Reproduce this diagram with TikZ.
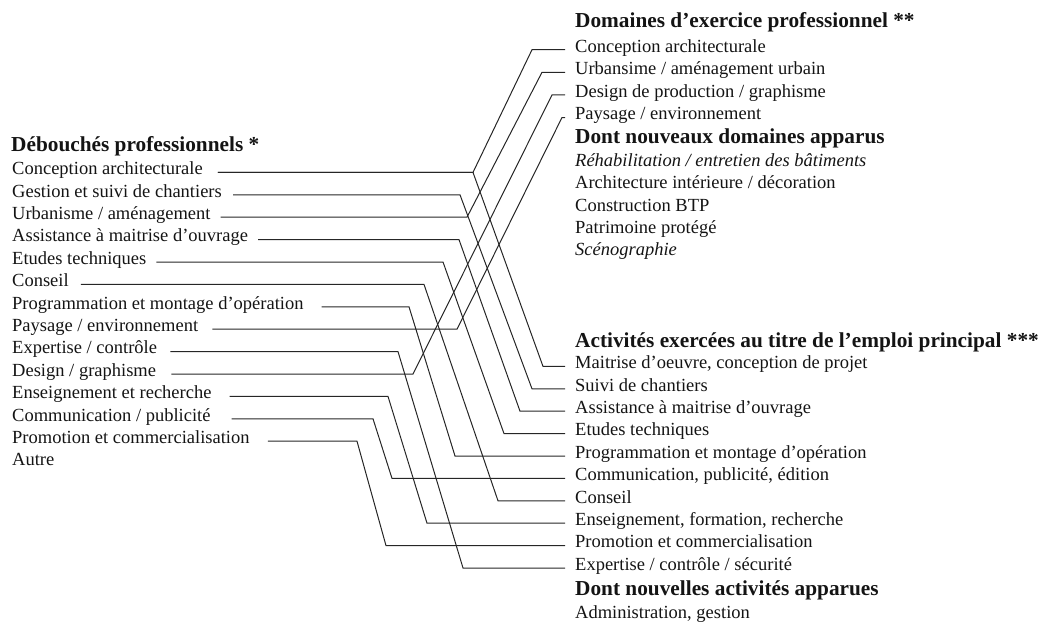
\documentclass[tikz,border=0pt]{standalone}
\usepackage{fontspec}
\setmainfont{Liberation Serif}
\begin{document}
\begin{tikzpicture}[x=1pt,y=-1pt,
  lbl/.style={anchor=base west, inner sep=0pt, text=black!92,
    font=\fontsize{18.5}{22.6}\selectfont},
  ttl/.style={lbl, font=\fontsize{21.3}{25}\selectfont\bfseries},
  itl/.style={lbl, font=\fontsize{18.5}{22.6}\selectfont\itshape},
  conn/.style={draw=black!85, line width=1pt, line join=miter}]
\useasboundingbox (0,-2) rectangle (1040,619);
% ---------- left column
\node[ttl] (lT) at (11,149.3) {Débouchés professionnels *};
\node[lbl] (l1)  at (12,172.7) {Conception architecturale};
\node[lbl] (l2)  at (12,195.1) {Gestion et suivi de chantiers};
\node[lbl] (l3)  at (12,217.5) {Urbanisme / aménagement};
\node[lbl] (l4)  at (12,239.9) {Assistance à maitrise d’ouvrage};
\node[lbl] (l5)  at (12,262.3) {Etudes techniques};
\node[lbl] (l6)  at (12,284.7) {Conseil};
\node[lbl] (l7)  at (12,307.1) {Programmation et montage d’opération};
\node[lbl] (l8)  at (12,329.5) {Paysage / environnement};
\node[lbl] (l9)  at (12,351.9) {Expertise / contrôle};
\node[lbl] (l10) at (12,374.3) {Design / graphisme};
\node[lbl] (l11) at (12,396.7) {Enseignement et recherche};
\node[lbl] (l12) at (12,419.1) {Communication / publicité};
\node[lbl] (l13) at (12,441.5) {Promotion et commercialisation};
\node[lbl] (l14) at (12,463.9) {Autre};
% ---------- right top column
\node[ttl] (tT) at (575,25.0) {Domaines d’exercice professionnel **};
\node[lbl] (t1) at (575,50.0) {Conception architecturale};
\node[lbl] (t2) at (575,72.6) {Urbansime / aménagement urbain};
\node[lbl] (t3) at (575,95.2) {Design de production / graphisme};
\node[lbl] (t4) at (575,117.8) {Paysage / environnement};
\node[ttl] (tT2) at (575,141.2) {Dont nouveaux domaines apparus};
\node[itl] (t5) at (575,164.6) {Réhabilitation / entretien des bâtiments};
\node[lbl] (t6) at (575,186.8) {Architecture intérieure / décoration};
\node[lbl] (t7) at (575,209.0) {Construction BTP};
\node[lbl] (t8) at (575,231.2) {Patrimoine protégé};
\node[itl] (t9) at (575,253.3) {Scénographie};
% ---------- right bottom column
\node[ttl] (bT) at (575,345.0) {Activités exercées au titre de l’emploi principal ***};
\node[lbl] (b1)  at (575,366.7) {Maitrise d’oeuvre, conception de projet};
\node[lbl] (b2)  at (575,389.1) {Suivi de chantiers};
\node[lbl] (b3)  at (575,411.5) {Assistance à maitrise d’ouvrage};
\node[lbl] (b4)  at (575,433.9) {Etudes techniques};
\node[lbl] (b5)  at (575,456.3) {Programmation et montage d’opération};
\node[lbl] (b6)  at (575,478.7) {Communication, publicité, édition};
\node[lbl] (b7)  at (575,501.1) {Conseil};
\node[lbl] (b8)  at (575,523.5) {Enseignement, formation, recherche};
\node[lbl] (b9)  at (575,545.9) {Promotion et commercialisation};
\node[lbl] (b10) at (575,568.3) {Expertise / contrôle / sécurité};
\node[ttl] (bT2) at (575,593.3) {Dont nouvelles activités apparues};
\node[lbl] (b11) at (575,616.0) {Administration, gestion};
% ---------- connectors: left node, gap, bend x 1, bend x 2, right node
\newcommand\linkLR[5]{%
  \draw[conn] ([xshift=#2pt]#1.mid east) -- (#3,0 |- #1.mid east)
    -- (#4,0 |- #5.mid west) -- ([xshift=-10pt]#5.mid west);}
% upward
\linkLR{l1}{15}{473}{532}{t1}
\linkLR{l3}{10}{467}{542}{t2}
\linkLR{l10}{15}{413}{552}{t3}
\linkLR{l8}{14}{457}{562}{t4}
% downward
\linkLR{l1}{15}{473}{543}{b1}
\linkLR{l2}{11}{460}{532}{b2}
\linkLR{l4}{10}{459}{520}{b3}
\linkLR{l5}{10}{443}{504}{b4}
\linkLR{l7}{18}{409}{455}{b5}
\linkLR{l12}{21}{373}{392}{b6}
\linkLR{l6}{12}{424}{498}{b7}
\linkLR{l11}{18}{388}{427}{b8}
\linkLR{l13}{18}{357}{386}{b9}
\linkLR{l9}{13}{398}{463}{b10}
\end{tikzpicture}
\end{document}
